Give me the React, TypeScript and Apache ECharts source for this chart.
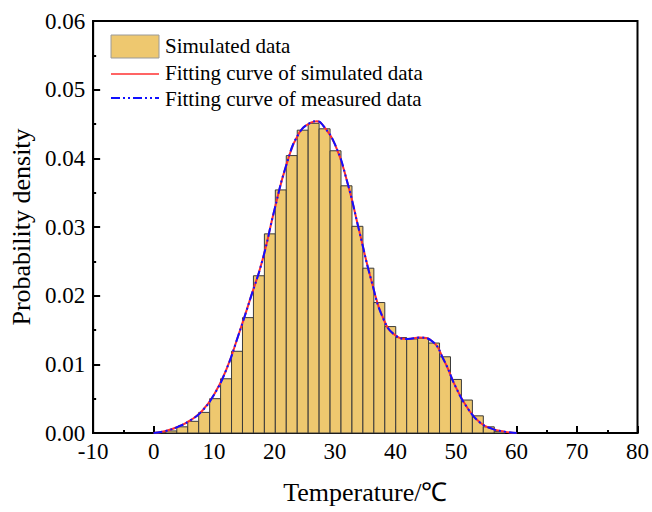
import React, { useEffect, useRef } from "react";
import * as echarts from "echarts";

// Histogram bins (left edge, °C) and probability density
const binStarts = [0.21, 2.02, 3.83, 5.64, 7.45, 9.26, 11.07, 12.88, 14.69, 16.5, 18.31, 20.12, 21.93, 23.74, 25.55, 27.36, 29.17, 30.98, 32.79, 34.6, 36.41, 38.22, 40.03, 41.84, 43.65, 45.46, 47.27, 49.08, 50.89, 52.7, 54.51, 56.32];
const binWidth = 1.81;
const densities = [0.0001, 0.0003, 0.0009, 0.0017, 0.003, 0.005, 0.0079, 0.0119, 0.0168, 0.0229, 0.029, 0.0354, 0.0404, 0.0441, 0.0451, 0.0443, 0.0411, 0.036, 0.0301, 0.024, 0.019, 0.0155, 0.0139, 0.0137, 0.0138, 0.0131, 0.0111, 0.0078, 0.0048, 0.0025, 0.0009, 0.0002];

// Fitting curves
const curveX = [0, 2, 4, 6, 8, 10, 12, 14, 16, 18, 20, 22, 24, 26, 27, 28, 30, 32, 34, 36, 38, 40, 42, 44, 46, 48, 50, 52, 54, 56, 58, 60];
const simulatedFit = [0.0, 0.0003, 0.0009, 0.0018, 0.0032, 0.0056, 0.0092, 0.0142, 0.0196, 0.0252, 0.0326, 0.0392, 0.0436, 0.0452, 0.0454, 0.0448, 0.042, 0.0366, 0.0294, 0.0222, 0.0166, 0.0142, 0.0137, 0.0139, 0.0134, 0.0106, 0.0066, 0.0035, 0.0015, 0.0006, 0.0002, 0.0];
const measuredFit = [0.0, 0.0003, 0.0009, 0.0018, 0.0032, 0.0056, 0.0092, 0.0142, 0.0196, 0.0252, 0.0326, 0.0392, 0.0436, 0.0452, 0.0454, 0.0448, 0.042, 0.0366, 0.0294, 0.0222, 0.0166, 0.0142, 0.0137, 0.0139, 0.0134, 0.0106, 0.0066, 0.0035, 0.0015, 0.0006, 0.0002, 0.0];

const legendNames = ["Simulated data", "Fitting curve of simulated data", "Fitting curve of measured data"];

const FONT = "Liberation Serif";
const BAR_COLOR = "#EEC86F";
const RED = "#FF3030";
const BLUE = "#1010FF";
const BLUE_DASH = [9, 3, 2, 3, 2, 3];

export default function App() {
  const ref = useRef<HTMLDivElement>(null);
  useEffect(() => {
    document.body.style.margin = "0";
    if (!ref.current) return;
    const chart = echarts.init(ref.current, null, { renderer: "svg" });
    const histData = binStarts.map((s, i) => [s, s + binWidth, densities[i]]);
    const simData = curveX.map((x, i) => [x, simulatedFit[i]]);
    const measData = curveX.map((x, i) => [x, measuredFit[i]]);
    const legendText = (name: string, y: number) => ({
      type: "text",
      left: 165,
      top: y - 12,
      style: { text: name, fontFamily: FONT, fontSize: 21, fill: "#000" },
      z: 10,
    });
    chart.setOption({
      animation: false,
      backgroundColor: "#fff",
      textStyle: { fontFamily: FONT },
      grid: {
        left: 91,
        right: 14,
        top: 21,
        bottom: 79,
        show: true,
        borderColor: "#000",
        borderWidth: 2,
      },
      graphic: [
        {
          type: "rect",
          shape: { x: 111, y: 35, width: 48, height: 23 },
          style: { fill: BAR_COLOR, stroke: "#9a9a9a", lineWidth: 1 },
          z: 10,
        },
        legendText(legendNames[0], 47),
        {
          type: "line",
          shape: { x1: 111, y1: 74, x2: 159, y2: 74 },
          style: { stroke: RED, lineWidth: 1.5 },
          z: 10,
        },
        legendText(legendNames[1], 74),
        {
          type: "line",
          shape: { x1: 111, y1: 98, x2: 159, y2: 98 },
          style: { stroke: BLUE, lineWidth: 2, lineDash: BLUE_DASH },
          z: 10,
        },
        legendText(legendNames[2], 100),
      ],
      xAxis: {
        type: "value",
        min: -10,
        max: 80,
        interval: 10,
        name: "Temperature/℃",
        nameLocation: "middle",
        nameGap: 46,
        nameTextStyle: { fontFamily: FONT, fontSize: 26, color: "#000" },
        axisLine: { onZero: false, lineStyle: { color: "#000", width: 2 } },
        axisTick: { inside: true, length: 7, lineStyle: { color: "#000", width: 2 } },
        minorTick: { show: true, splitNumber: 2, length: 3, lineStyle: { color: "#000", width: 2 } },
        splitLine: { show: false },
        axisLabel: { fontFamily: FONT, fontSize: 23, color: "#000", margin: 7 },
      },
      yAxis: {
        type: "value",
        min: 0,
        max: 0.06,
        interval: 0.01,
        name: "Probability density",
        nameLocation: "middle",
        nameGap: 56,
        nameTextStyle: { fontFamily: FONT, fontSize: 26, color: "#000" },
        axisLine: { show: true, onZero: false, lineStyle: { color: "#000", width: 2 } },
        axisTick: { show: true, inside: true, length: 7, lineStyle: { color: "#000", width: 2 } },
        minorTick: { show: true, splitNumber: 2, length: 3, lineStyle: { color: "#000", width: 2 } },
        splitLine: { show: false },
        axisLabel: {
          fontFamily: FONT,
          fontSize: 23,
          color: "#000",
          margin: 8,
          formatter: (v: number) => v.toFixed(2),
        },
      },
      series: [
        {
          name: legendNames[0],
          type: "custom",
          data: histData,
          encode: { x: [0, 1], y: 2 },
          itemStyle: { color: BAR_COLOR },
          renderItem: (params: any, api: any) => {
            const x0 = api.value(0);
            const x1 = api.value(1);
            const y = api.value(2);
            const p0 = api.coord([x0, y]);
            const p1 = api.coord([x1, 0]);
            return {
              type: "rect",
              shape: { x: p0[0], y: p0[1], width: p1[0] - p0[0], height: p1[1] - p0[1] },
              style: { fill: BAR_COLOR, stroke: "#3a3a3a", lineWidth: 1 },
            };
          },
        },
        {
          name: legendNames[1],
          type: "line",
          data: simData,
          smooth: true,
          symbol: "none",
          showSymbol: false,
          itemStyle: { color: RED },
          lineStyle: { color: RED, width: 2 },
          z: 3,
        },
        {
          name: legendNames[2],
          type: "line",
          data: measData,
          smooth: true,
          symbol: "none",
          showSymbol: false,
          itemStyle: { color: BLUE },
          lineStyle: { color: BLUE, width: 2, type: BLUE_DASH },
          z: 4,
        },
      ],
    });
    return () => chart.dispose();
  }, []);
  return <div ref={ref} style={{ width: 652, height: 512 }} />;
}
